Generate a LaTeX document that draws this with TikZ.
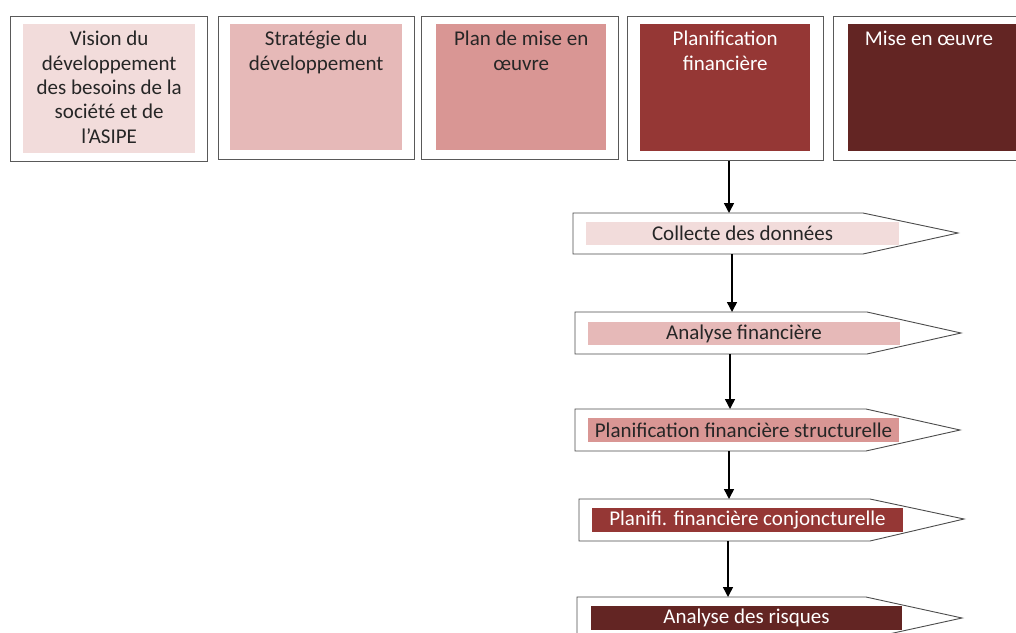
\documentclass[tikz,border=0pt]{standalone}
\usepackage{fontspec}
\setmainfont{Carlito}
\usepackage{tikz}
\usetikzlibrary{calc}
\usetikzlibrary{arrows.meta}
\definecolor{roseA}{HTML}{F2DCDB}
\definecolor{roseB}{HTML}{E6B9B8}
\definecolor{roseC}{HTML}{D99694}
\definecolor{redD}{HTML}{953735}
\definecolor{redE}{HTML}{632523}
\definecolor{ink}{HTML}{262626}

\begin{document}
\begin{tikzpicture}
    [x=1pt,y=-1pt,line join=miter,
     frame/.style={draw=black!65,line width=1.4pt,fill=white,anchor=north west,inner sep=0pt},
     panel/.style={anchor=north west,inner sep=0pt,draw=none},
     label/.style={anchor=north,align=center,inner sep=0pt,font=\fontsize{21}{24.4}\selectfont},
     pent/.style={draw=black!70,line width=0.9pt,fill=white},
     band/.style={inner sep=0pt,minimum height=23pt,font=\fontsize{21}{23}\selectfont},
     flow/.style={-{Triangle[length=10pt,width=10pt]},line width=1.5pt}]
    \useasboundingbox (0,0) rectangle (1016,632);
    \clip (0,0) rectangle (1016,632);

    % top row
    \node[frame,minimum width=197pt,minimum height=145pt] (F1) at ( 10,16) {};
    \node[frame,minimum width=196pt,minimum height=143pt] (F2) at (218,16) {};
    \node[frame,minimum width=197pt,minimum height=143pt] (F3) at (421,16) {};
    \node[frame,minimum width=196pt,minimum height=144pt] (F4) at (627,16) {};
    \node[frame,minimum width=196pt,minimum height=144pt] (F5) at (833,16) {};

    \node[panel,fill=roseA,minimum width=172pt,minimum height=129pt] (P1) at ( 23,24) {};
    \node[panel,fill=roseB,minimum width=172pt,minimum height=126pt] (P2) at (230,24) {};
    \node[panel,fill=roseC,minimum width=170pt,minimum height=126pt] (P3) at (436,24) {};
    \node[panel,fill=redD, minimum width=170pt,minimum height=127pt] (P4) at (640,24) {};
    \node[panel,fill=redE, minimum width=180pt,minimum height=127pt] (P5) at (848,24) {};

    \node[label,text=ink] (T1) at ($(P1.north)+(0,7)$)
        {Vision du\\d\'eveloppement\\des besoins de la\\soci\'et\'e et de\\l’ASIPE};
    \node[label,text=ink] (T2) at ($(P2.north)+(0,7)$)
        {Strat\'egie du\\d\'eveloppement};
    \node[label,text=ink] (T3) at ($(P3.north)+(0,7)$)
        {Plan de mise en\\œuvre};
    \node[label,text=white] (T4) at ($(P4.north)+(0,7)$)
        {Planification\\financi\`ere};
    \node[label,text=white] (T5) at ($(P5.north west)+(81,7)$)
        {Mise en œuvre};

    % arrow shapes
    \coordinate (A1) at (573,213);
    \coordinate (A2) at (575,312);
    \coordinate (A3) at (575,409);
    \coordinate (A4) at (579,499);
    \coordinate (A5) at (577,597);

    \draw[pent] (A1) -- ++(290,0) -- ++(95,20) -- ++(-95,21) -- ++(-290,0) -- cycle;
    \draw[pent] (A2) -- ++(292,0) -- ++(94,21) -- ++(-94,21) -- ++(-292,0) -- cycle;
    \draw[pent] (A3) -- ++(291,0) -- ++(94,21) -- ++(-94,21) -- ++(-291,0) -- cycle;
    \draw[pent] (A4) -- ++(291,0) -- ++(94,20) -- ++(-94,22) -- ++(-291,0) -- cycle;
    \draw[pent] (A5) -- ++(289,0) -- ++(96,21) -- ++(-96,21) -- ++(-289,0) -- cycle;

    \node[band,fill=roseA,text=ink,minimum width=313pt] (S1) at (742.5,233.5) {Collecte des donn\'ees};
    \node[band,fill=roseB,text=ink,minimum width=312pt] (S2) at (744,333.5) {Analyse financi\`ere};
    \node[band,fill=roseC,text=ink,minimum width=311pt,minimum height=24pt] (S3) at (743.5,430) {Planification financi\`ere structurelle};
    \node[band,fill=redD,text=white,minimum width=311pt,minimum height=24pt] (S4) at (747.5,520) {Planifi. financi\`ere conjoncturelle};
    \node[band,fill=redE,text=white,minimum width=311pt,minimum height=24pt] (S5) at (746.5,618) {Analyse des risques};

    % connectors
    \coordinate (B1) at (729,213);
    \coordinate (B2) at (732,312);
    \coordinate (B3) at (730,409);
    \coordinate (B4) at (729,499);
    \coordinate (B5) at (728,597);
    \coordinate (C1) at (0,254);
    \coordinate (C2) at (0,354);
    \coordinate (C3) at (0,451);
    \coordinate (C4) at (0,541);

    \draw[flow] (F4.south -| B1) -- (B1);
    \draw[flow] (B2 |- C1) -- (B2);
    \draw[flow] (B3 |- C2) -- (B3);
    \draw[flow] (B4 |- C3) -- (B4);
    \draw[flow] (B5 |- C4) -- (B5);
  \end{tikzpicture}
\end{document}
